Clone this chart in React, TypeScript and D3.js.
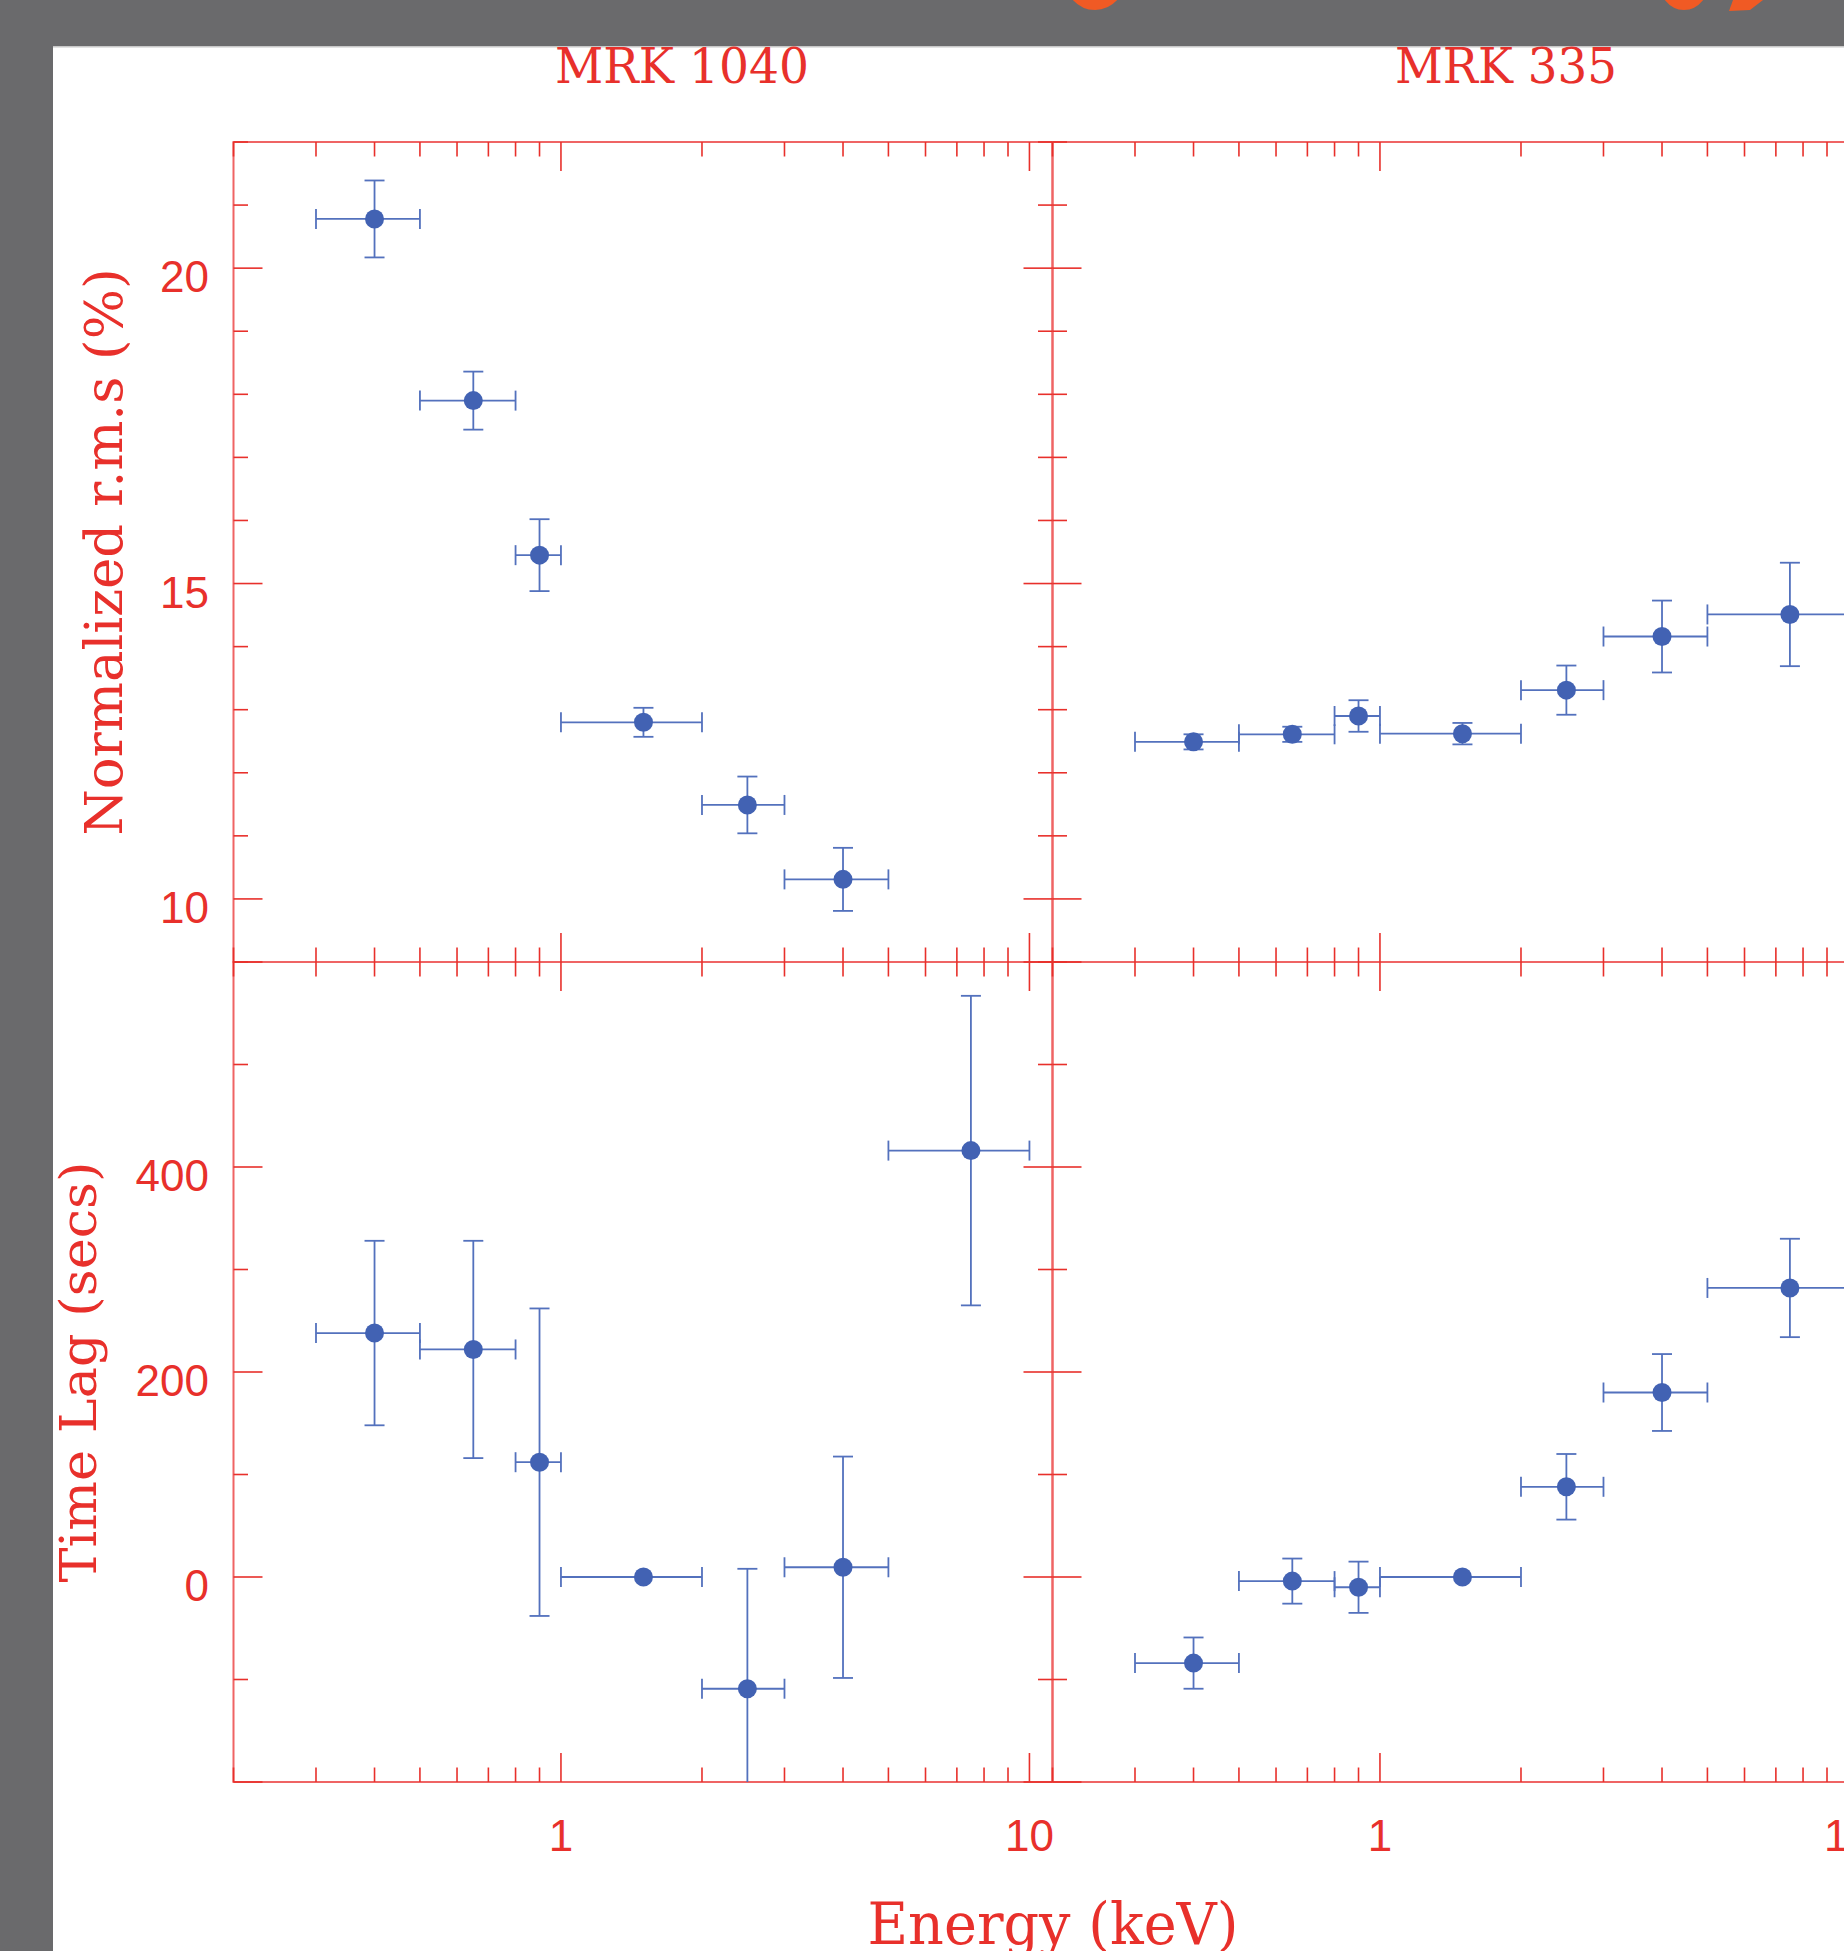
import React from "react";
import * as d3 from "d3";

// ---- data ----
const energyCenters = [0.4, 0.65, 0.9, 1.5, 2.5, 4.0, 7.5];
const binLow = [0.3, 0.5, 0.8, 1.0, 2.0, 3.0, 5.0];
const binHigh = [0.5, 0.8, 1.0, 2.0, 3.0, 5.0, 10.0];

const mrk1040Rms = [20.78, 17.9, 15.45, 12.8, 11.49, 10.31];
const mrk1040RmsErr = [0.61, 0.46, 0.57, 0.23, 0.45, 0.5];
const mrk1040Lag = [238, 222, 112, 0, -109, 9.5, 416];
const mrk1040LagErr = [90, 106, 150, 0, 117, 108, 151];

const mrk335Rms = [12.49, 12.61, 12.9, 12.62, 13.31, 14.16, 14.51];
const mrk335RmsErr = [0.12, 0.12, 0.25, 0.17, 0.39, 0.57, 0.82];
const mrk335Lag = [-84, -4, -10, 0, 88, 180, 282];
const mrk335LagErr = [25, 22, 25, 0, 32, 37.5, 48];

const xMajor = [1, 10];
const xMinor = [0.2, 0.3, 0.4, 0.5, 0.6, 0.7, 0.8, 0.9, 2, 3, 4, 5, 6, 7, 8, 9];
const rmsMajor = [10, 15, 20];
const rmsMinor = [9, 11, 12, 13, 14, 16, 17, 18, 19, 21, 22];
const lagMajor = [-200, 0, 200, 400, 600];
const lagMinor = [-100, 100, 300, 500];
const rmsLabels = [10, 15, 20];
const lagLabels = [0, 200, 400];
const xLabels = [1, 10];

const titles = ["MRK 1040", "MRK 335"];

// ---- layout ----
const W = 1844;
const H = 1951;
const panelW = 819;
const leftX = 233.5;
const topY = 142;
const midY = 962;
const botY = 1782;
const MAJ = 29;
const MIN = 14.5;

const RED = "#e8302b";
const AXIS = "#ef6464";
const BLUE = "#4262b3";
const BAR = "#5371bd";

const xDomain: [number, number] = [0.2, 11.2];
const rmsDomain: [number, number] = [9, 22];
const lagDomain: [number, number] = [-200, 600];

function ticksFor(
  key: string,
  xs: d3.ScaleLogarithmic<number, number>,
  ys: d3.ScaleLinear<number, number>,
  yMajor: number[],
  yMinor: number[],
  rightTicks: boolean
) {
  const [x0, x1] = xs.range();
  const [yb, yt] = ys.range();
  const out: JSX.Element[] = [];
  const xt = [...xMajor.map((v) => [v, MAJ]), ...xMinor.map((v) => [v, MIN])];
  xt.forEach(([v, len], i) => {
    const x = xs(v);
    if (x < x0 - 0.5 || x > x1 + 0.5) return;
    out.push(<line key={`${key}xt${i}`} x1={x} x2={x} y1={yt} y2={yt + len} />);
    out.push(<line key={`${key}xb${i}`} x1={x} x2={x} y1={yb} y2={yb - len} />);
  });
  const yt2 = [...yMajor.map((v) => [v, MAJ]), ...yMinor.map((v) => [v, MIN])];
  yt2.forEach(([v, len], i) => {
    const y = ys(v);
    if (y < yt - 0.5 || y > yb + 0.5) return;
    out.push(<line key={`${key}yl${i}`} x1={x0} x2={x0 + len} y1={y} y2={y} />);
    if (rightTicks) out.push(<line key={`${key}yr${i}`} x1={x1} x2={x1 - len} y1={y} y2={y} />);
  });
  return out;
}

function points(
  key: string,
  xs: d3.ScaleLogarithmic<number, number>,
  ys: d3.ScaleLinear<number, number>,
  vals: number[],
  errs: number[]
) {
  const [dlo, dhi] = ys.domain();
  const clamp = (v: number) => Math.max(dlo, Math.min(dhi, v));
  return vals.map((v, i) => {
    const cx = xs(energyCenters[i]);
    const cy = ys(v);
    const xl = xs(binLow[i]);
    const xh = xs(binHigh[i]);
    const e = errs[i];
    const yTop = ys(clamp(v + e));
    const yBot = ys(clamp(v - e));
    return (
      <g key={`${key}p${i}`}>
        <line x1={xl} x2={xh} y1={cy} y2={cy} />
        <line x1={xl} x2={xl} y1={cy - 10} y2={cy + 10} />
        <line x1={xh} x2={xh} y1={cy - 10} y2={cy + 10} />
        {e > 0 && (
          <>
            <line x1={cx} x2={cx} y1={yTop} y2={yBot} />
            {v + e <= dhi && <line x1={cx - 10} x2={cx + 10} y1={yTop} y2={yTop} />}
            {v - e >= dlo && <line x1={cx - 10} x2={cx + 10} y1={yBot} y2={yBot} />}
          </>
        )}
        <circle cx={cx} cy={cy} r={9.5} fill={BLUE} stroke="none" />
      </g>
    );
  });
}

export default function App() {
  const xsL = d3.scaleLog().domain(xDomain).range([leftX, leftX + panelW]);
  const xsR = d3.scaleLog().domain(xDomain).range([leftX + panelW, leftX + 2 * panelW]);
  const ysRms = d3.scaleLinear().domain(rmsDomain).range([midY, topY]);
  const ysLag = d3.scaleLinear().domain(lagDomain).range([botY, midY]);

  const serif = "'DejaVu Serif', serif";
  const sans = "'Liberation Sans', Arial, sans-serif";

  return (
    <svg
      width={W}
      height={H}
      viewBox={`0 0 ${W} ${H}`}
      style={{ position: "absolute", left: 0, top: 0, display: "block" }}
    >
      <rect x={0} y={0} width={W} height={H} fill="#6a6a6c" />
      <rect x={53} y={46} width={W - 53} height={H - 46} fill="#ffffff" />
      <rect x={53} y={46} width={W - 53} height={1.5} fill="#c8c8c8" />

      {/* orange fragments of the slide heading above */}
      <g fill="none" stroke="#f05a24" strokeWidth={10}>
        <ellipse cx={1095} cy={-26} rx={27} ry={31} />
        <ellipse cx={1684} cy={-21} rx={21} ry={26} />
      </g>
      <path d="M1733,0 L1763,0 L1750,10 L1729,11 Z" fill="#f05a24" />

      {/* titles */}
      <text x={555} y={82.5} fill={RED} fontFamily={serif} fontSize={48} textLength={254} lengthAdjust="spacingAndGlyphs">
        {titles[0]}
      </text>
      <text x={1395} y={82.5} fill={RED} fontFamily={serif} fontSize={48} textLength={222} lengthAdjust="spacingAndGlyphs">
        {titles[1]}
      </text>

      {/* axes frames */}
      <g fill="none" stroke={AXIS} strokeWidth={2}>
        <rect x={leftX} y={topY} width={panelW} height={midY - topY} />
        <rect x={leftX} y={midY} width={panelW} height={botY - midY} />
        <rect x={leftX + panelW} y={topY} width={panelW} height={midY - topY} />
        <rect x={leftX + panelW} y={midY} width={panelW} height={botY - midY} />
      </g>

      {/* ticks */}
      <g stroke={RED} strokeWidth={1.6}>
        {ticksFor("tl", xsL, ysRms, rmsMajor, rmsMinor, true)}
        {ticksFor("bl", xsL, ysLag, lagMajor, lagMinor, true)}
        {ticksFor("tr", xsR, ysRms, rmsMajor, rmsMinor, false)}
        {ticksFor("br", xsR, ysLag, lagMajor, lagMinor, false)}
      </g>

      {/* tick labels */}
      <g fill={RED} fontFamily={sans} fontSize={44}>
        {rmsLabels.map((v) => (
          <text key={`rl${v}`} x={209} y={ysRms(v) + 24} textAnchor="end">
            {v}
          </text>
        ))}
        {lagLabels.map((v) => (
          <text key={`ll${v}`} x={209} y={ysLag(v) + 23.5} textAnchor="end">
            {v}
          </text>
        ))}
        {xLabels.map((v) => (
          <text key={`xl${v}`} x={xsL(v)} y={1851} textAnchor="middle">
            {v}
          </text>
        ))}
        {xLabels.map((v) => (
          <text key={`xr${v}`} x={xsR(v)} y={1851} textAnchor="middle">
            {v}
          </text>
        ))}
      </g>

      {/* axis titles */}
      <text
        transform={`translate(122,552) rotate(-90)`}
        fill={RED}
        fontFamily={serif}
        fontSize={52}
        textAnchor="middle"
        textLength={567}
        lengthAdjust="spacingAndGlyphs"
      >
        Normalized r.m.s (%)
      </text>
      <text
        transform={`translate(96,1372) rotate(-90)`}
        fill={RED}
        fontFamily={serif}
        fontSize={50}
        textAnchor="middle"
        textLength={421}
        lengthAdjust="spacingAndGlyphs"
      >
        Time Lag (secs)
      </text>
      <text
        x={1053}
        y={1944}
        fill={RED}
        fontFamily={serif}
        fontSize={58}
        textAnchor="middle"
        textLength={371}
        lengthAdjust="spacingAndGlyphs"
      >
        Energy (keV)
      </text>

      {/* data */}
      <g stroke={BAR} strokeWidth={1.8} fill="none">
        {points("a", xsL, ysRms, mrk1040Rms, mrk1040RmsErr)}
        {points("b", xsL, ysLag, mrk1040Lag, mrk1040LagErr)}
        {points("c", xsR, ysRms, mrk335Rms, mrk335RmsErr)}
        {points("d", xsR, ysLag, mrk335Lag, mrk335LagErr)}
      </g>
    </svg>
  );
}
